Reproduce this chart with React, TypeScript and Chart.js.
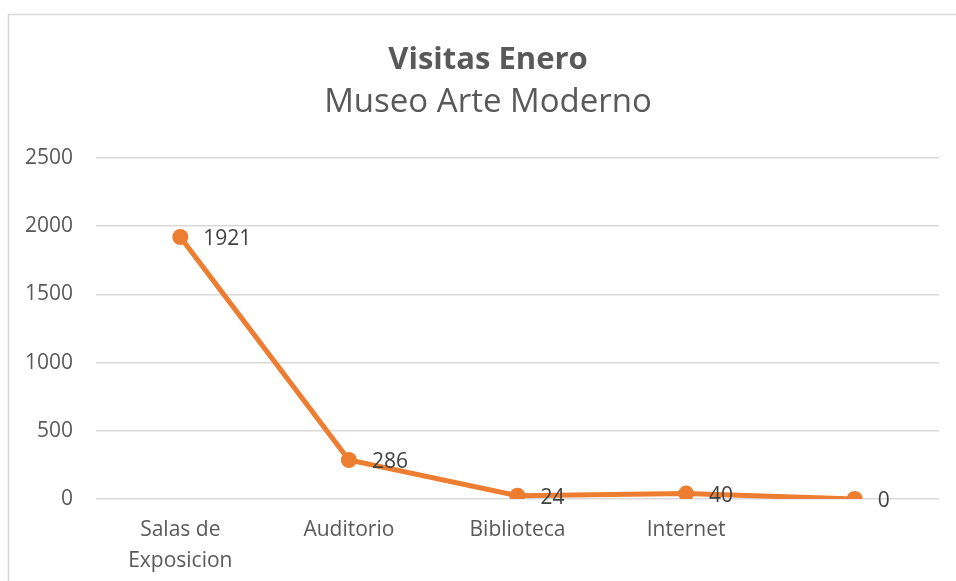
import React, { useEffect, useRef } from "react";
import { Chart, registerables } from "chart.js";

Chart.register(...registerables);

const categories: (string | string[])[] = [["Salas de", "Exposicion"], "Auditorio", "Biblioteca", "Internet", ""];
const visitas: number[] = [1921, 286, 24, 40, 0];
const yTicks: number[] = [0, 500, 1000, 1500, 2000, 2500];
const titleText = "Visitas Enero";
const subtitleText = "Museo Arte Moderno";

const FONT = "'Open Sans', 'DejaVu Sans', sans-serif";
const ORANGE = "#ED7D31";
const GRID = "#d9d9d9";

const framePlugin = {
  id: "frameAndTitles",
  beforeDraw(chart: any) {
    const ctx = chart.ctx;
    ctx.save();
    ctx.fillStyle = "#ffffff";
    ctx.fillRect(0, 0, chart.width, chart.height);
    ctx.strokeStyle = GRID;
    ctx.lineWidth = 1.5;
    ctx.beginPath();
    ctx.moveTo(8.5, chart.height);
    ctx.lineTo(8.5, 14.5);
    ctx.lineTo(chart.width, 14.5);
    ctx.stroke();
    ctx.fillStyle = "#595959";
    ctx.textAlign = "center";
    ctx.textBaseline = "alphabetic";
    ctx.font = `bold 31px ${FONT}`;
    ctx.fillText(titleText, 488, 69);
    ctx.font = `33px ${FONT}`;
    ctx.fillText(subtitleText, 488, 112);
    ctx.restore();
  },
};

const labelPlugin = {
  id: "pointLabels",
  afterDatasetsDraw(chart: any) {
    const ctx = chart.ctx;
    const meta = chart.getDatasetMeta(0);
    ctx.save();
    ctx.fillStyle = "#404040";
    ctx.font = `21px ${FONT}`;
    ctx.textAlign = "left";
    ctx.textBaseline = "middle";
    meta.data.forEach((pt: any, i: number) => {
      ctx.fillText(String(visitas[i]), pt.x + 23, pt.y + 2);
    });
    ctx.restore();
  },
};

export default function App() {
  const ref = useRef<HTMLCanvasElement | null>(null);
  useEffect(() => {
    if (!ref.current) return;
    const chart = new Chart(ref.current, {
      type: "line",
      data: {
        labels: categories,
        datasets: [
          {
            data: visitas,
            borderColor: ORANGE,
            backgroundColor: ORANGE,
            borderWidth: 5,
            pointRadius: 8,
            pointHoverRadius: 8,
            pointBackgroundColor: ORANGE,
            pointBorderWidth: 0,
            tension: 0,
          },
        ],
      },
      options: {
        animation: false,
        responsive: false,
        devicePixelRatio: 1,
        layout: { padding: { left: 0, right: 17, top: 158, bottom: 0 } },
        plugins: {
          legend: { display: false },
          title: { display: false },
          tooltip: { enabled: false },
        },
        scales: {
          x: {
            offset: true,
            grid: { display: false, drawTicks: false },
            border: { display: false },
            ticks: {
              color: "#595959",
              font: { family: FONT, size: 21, lineHeight: 1.45 },
              padding: 16,
              maxRotation: 0,
              autoSkip: false,
            },
            afterFit(scale: any) {
              scale.height = 82;
            },
          },
          y: {
            min: 0,
            max: 2500,
            afterBuildTicks(scale: any) {
              scale.ticks = yTicks.map((v) => ({ value: v }));
            },
            grid: { color: GRID, lineWidth: 1.5, drawTicks: false },
            border: { display: false },
            ticks: {
              color: "#595959",
              font: { family: FONT, size: 21 },
              padding: 23,
              callback: (v: any) => String(v),
            },
            afterFit(scale: any) {
              scale.width = 96;
            },
          },
        },
      },
      plugins: [framePlugin, labelPlugin],
    });
    return () => chart.destroy();
  }, []);
  return (
    <div style={{ position: "fixed", left: 0, top: 0, width: 956, height: 581, background: "#fff" }}>
      <canvas ref={ref} width={956} height={581} style={{ width: 956, height: 581, display: "block" }} />
    </div>
  );
}
